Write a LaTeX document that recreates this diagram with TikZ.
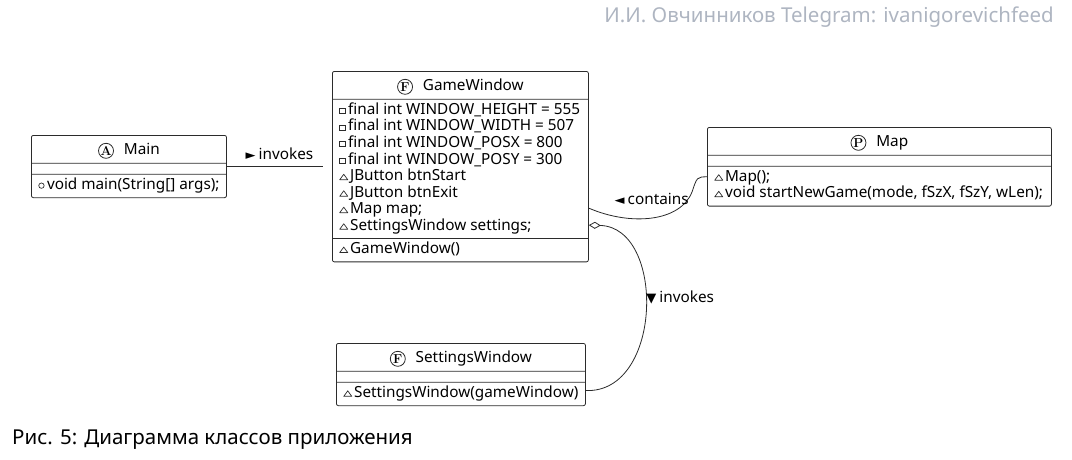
\documentclass[tikz,border=0pt]{standalone}
\usepackage{fontspec}
\setsansfont{Noto Sans}
\newfontfamily\symfont{DejaVu Sans}
\usetikzlibrary{shapes.multipart,arrows.meta,positioning}

\definecolor{umlline}{HTML}{2B2B2B}
\definecolor{wmgray}{HTML}{AEB5C1}

\newcommand{\umlfont}{\sffamily\fontsize{15.3}{16.4}\selectfont}
\newcommand{\hdstrut}{\rule[-5pt]{0pt}{21pt}}
\newcommand{\members}[1]{\begin{tabular}{@{}l@{}}#1\end{tabular}}
\newcommand{\pointer}[1]{{\symfont\fontsize{13}{13}\selectfont #1}\hspace{3pt}}
% circled class letter in the header
\newcommand{\stereo}[1]{\tikz[baseline=-4pt]\node[circle,anchor=center,draw=umlline,line width=0.8pt,inner sep=0pt,minimum size=15pt,font=\rmfamily\bfseries\fontsize{13}{13}\selectfont] {#1};\hspace{10pt}}
% visibility marks
\newcommand{\vispriv}{\tikz[x=1pt,y=1pt,baseline=0pt]\draw[sharp corners,draw=umlline,line width=0.7pt] (0.5,1) rectangle (6,6);\hspace{2.5pt}}
\newcommand{\vispkg}{\tikz[x=1pt,y=1pt,baseline=0pt]\draw[sharp corners,draw=umlline,line width=0.7pt,line join=round] (0,1) -- (8,1) -- (4,6.5) -- cycle;\hspace{2pt}}
\newcommand{\vispub}{\tikz[x=1pt,y=1pt,baseline=0pt]\draw[draw=umlline,line width=0.7pt] (3,3.7) circle (2.7);\hspace{2.5pt}}

\tikzset{
  umlclass/.style={rectangle split, rectangle split parts=3,
    rectangle split part align={center,left,left},
    rectangle split empty part height=2pt,
    rectangle split empty part depth=0pt,
    draw=umlline, line width=0.8pt, rounded corners=2pt,
    anchor=north west, inner xsep=7pt, inner ysep=3pt,
    font=\umlfont},
  conn/.style={draw=umlline, line width=0.8pt},
  connlabel/.style={font=\umlfont, inner sep=1pt},
}

\begin{document}
\begin{tikzpicture}[x=1pt,y=-1pt]
    \useasboundingbox (0,0) rectangle (1072,459);

    % Watermark
    \node[anchor=east, inner sep=0pt, text=wmgray, font=\sffamily\fontsize{20.5}{20.5}\selectfont] (wm) at (1054,17) {И.И. Овчинников Telegram: ivanigorevichfeed};

    % Classes
    \node[umlclass, minimum width=195pt] (main) at (31,135)
        {\stereo{A}Main\hdstrut\nodepart{two}\nodepart{three}\members{\vispub void main(String[] args);}};
    \node[umlclass, minimum width=256pt] (gw) at (332,71)
        {\stereo{F}GameWindow\hdstrut
        \nodepart{two}\members{%
        \vispriv final int WINDOW\_HEIGHT = 555\\
        \vispriv final int WINDOW\_WIDTH = 507\\
        \vispriv final int WINDOW\_POSX = 800\\
        \vispriv final int WINDOW\_POSY = 300\\
        \vispkg JButton btnStart\\
        \vispkg JButton btnExit\\
        \vispkg Map map;\\
        \vispkg SettingsWindow settings;}%
        \nodepart{three}\members{\vispkg GameWindow()}};
    \node[umlclass, minimum width=344pt] (map) at (707,127)
        {\stereo{P}Map\hdstrut\nodepart{two}\nodepart{three}\members{%
        \vispkg Map();\\
        \vispkg void startNewGame(mode, fSzX, fSzY, wLen);}};
    \node[umlclass, minimum width=245pt] (sw) at (336,343)
        {\stereo{F}SettingsWindow\hdstrut\nodepart{two}\nodepart{three}\members{\vispkg SettingsWindow(gameWindow)}};

    % Connectors
    \draw[conn, shorten >=9pt] (main.east) -- (main.east -| gw.west)
        node[connlabel, midway, above=5pt] {\pointer{►}invokes};
    \draw[conn] ([yshift=-41.5pt]gw.east) .. controls +(42,18) and (680,222) .. (692,192)
        node[connlabel, pos=0.5, above=12pt] {\pointer{◄}contains}
        .. controls (697,177) .. ([yshift=-10pt]map.west);
    \draw[conn, {Diamond[open,length=12pt,width=7pt]}-] ([yshift=-58.5pt]gw.east)
        .. controls +(77,2) and +(77,3) .. ([yshift=-16pt]sw.east)
        node[connlabel, pos=0.5, anchor=west, xshift=0pt, yshift=12pt] {\pointer{▼}invokes};

    % Caption
    \node[anchor=west, inner sep=0pt, font=\sffamily\fontsize{20.5}{20.5}\selectfont] (cap) at (12,440) {Рис. 5: Диаграмма классов приложения};
\end{tikzpicture}
\end{document}
